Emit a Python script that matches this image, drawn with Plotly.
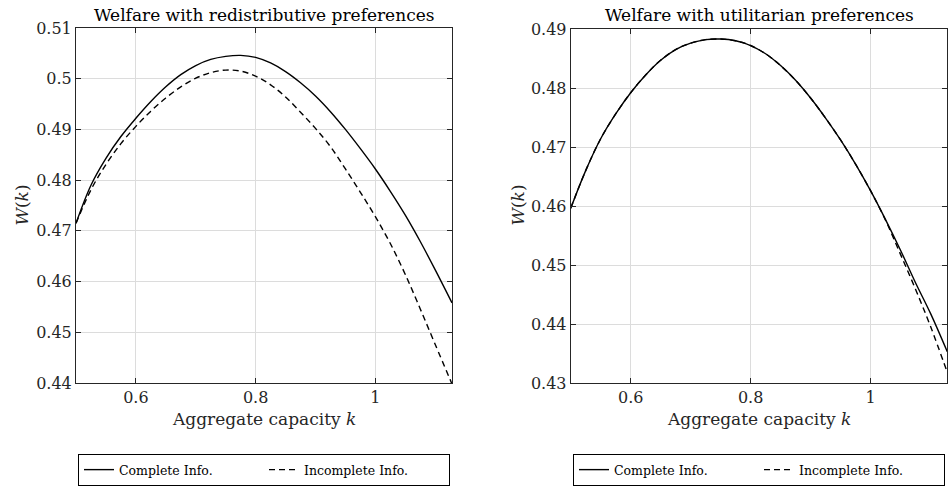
import plotly.graph_objects as go

# ---------------- data ----------------
# Left panel: welfare with redistributive preferences
k_red_complete = [0.5, 0.525, 0.55, 0.575, 0.6, 0.625, 0.65, 0.675, 0.7, 0.725, 0.75, 0.775,
                  0.8, 0.825, 0.85, 0.875, 0.9, 0.925, 0.95, 0.975, 1.0, 1.025, 1.05,
                  1.075, 1.1, 1.128]
w_red_complete = [0.4715, 0.4790, 0.4843, 0.4886, 0.4922, 0.4955, 0.4984, 0.5008, 0.5026,
                  0.5038, 0.5044, 0.5046, 0.5042, 0.5031, 0.5014, 0.4992, 0.4966, 0.4935,
                  0.4900, 0.4862, 0.4822, 0.4778, 0.4731, 0.4679, 0.4623, 0.4558]
k_red_incomplete = [0.5, 0.525, 0.55, 0.575, 0.6, 0.625, 0.65, 0.675, 0.7, 0.725, 0.75, 0.775,
                    0.8, 0.825, 0.85, 0.875, 0.9, 0.925, 0.95, 0.975, 1.0, 1.025, 1.05,
                    1.075, 1.1, 1.128]
w_red_incomplete = [0.4715, 0.4781, 0.4831, 0.4872, 0.4906, 0.4936, 0.4962, 0.4984, 0.5001,
                    0.5012, 0.5017, 0.5015, 0.5005, 0.4988, 0.4964, 0.4934, 0.4902, 0.4866,
                    0.4822, 0.4776, 0.4728, 0.4675, 0.4614, 0.4546, 0.4476, 0.4398]

# Right panel: welfare with utilitarian preferences
k_util_complete = [0.5, 0.525, 0.55, 0.575, 0.6, 0.625, 0.65, 0.675, 0.7, 0.725, 0.75, 0.775,
                   0.8, 0.825, 0.85, 0.875, 0.9, 0.925, 0.95, 0.975, 1.0, 1.025, 1.05,
                   1.075, 1.1, 1.128]
w_util_complete = [0.4596, 0.4660, 0.4714, 0.4756, 0.4792, 0.4822, 0.4847, 0.4865, 0.4876,
                   0.4882, 0.4883, 0.4880, 0.4872, 0.4858, 0.4838, 0.4813, 0.4783, 0.4749,
                   0.4712, 0.4671, 0.4626, 0.4577, 0.4525, 0.4470, 0.4418, 0.4353]
k_util_incomplete = [0.5, 0.525, 0.55, 0.575, 0.6, 0.625, 0.65, 0.675, 0.7, 0.725, 0.75, 0.775,
                     0.8, 0.825, 0.85, 0.875, 0.9, 0.925, 0.95, 0.975, 1.0, 1.025, 1.05,
                     1.075, 1.1, 1.128]
w_util_incomplete = [0.4596, 0.4660, 0.4714, 0.4756, 0.4792, 0.4822, 0.4847, 0.4865, 0.4876,
                     0.4882, 0.4883, 0.4880, 0.4872, 0.4858, 0.4838, 0.4813, 0.4783, 0.4749,
                     0.4712, 0.4671, 0.4626, 0.4576, 0.4518, 0.4459, 0.4396, 0.4318]

x_ticks = [0.6, 0.8, 1.0]
x_ticktext = ["0.6", "0.8", "1"]
y_ticks_left = [0.44, 0.45, 0.46, 0.47, 0.48, 0.49, 0.50, 0.51]
y_ticktext_left = ["0.44", "0.45", "0.46", "0.47", "0.48", "0.49", "0.5", "0.51"]
y_ticks_right = [0.43, 0.44, 0.45, 0.46, 0.47, 0.48, 0.49]
y_ticktext_right = ["0.43", "0.44", "0.45", "0.46", "0.47", "0.48", "0.49"]

title_left = "Welfare with redistributive preferences"
title_right = "Welfare with utilitarian preferences"
x_title = "Aggregate capacity <i>k</i>"
y_title = "<i>W</i>(<i>k</i>)"
name_complete = "Complete Info."
name_incomplete = "Incomplete Info."

# ---------------- figure ----------------
W, H = 948, 491
FONT = "DejaVu Serif"
AX = "#262626"
GRID = "#dcdcdc"

fig = go.Figure()


def px_x(p):
    return p / W


def px_y(p):
    return 1 - p / H


line_solid = dict(color="black", width=1.4, shape="spline", smoothing=1.0)
line_dash = dict(color="black", width=1.4, shape="spline", smoothing=1.0, dash="6px,4px")

fig.add_trace(go.Scatter(x=k_red_complete, y=w_red_complete, mode="lines", name=name_complete,
                         line=line_solid, xaxis="x", yaxis="y", legend="legend"))
fig.add_trace(go.Scatter(x=k_red_incomplete, y=w_red_incomplete, mode="lines", name=name_incomplete,
                         line=line_dash, xaxis="x", yaxis="y", legend="legend"))
fig.add_trace(go.Scatter(x=k_util_complete, y=w_util_complete, mode="lines", name=name_complete,
                         line=line_solid, xaxis="x2", yaxis="y2", legend="legend2"))
fig.add_trace(go.Scatter(x=k_util_incomplete, y=w_util_incomplete, mode="lines", name=name_incomplete,
                         line=line_dash, xaxis="x2", yaxis="y2", legend="legend2"))

axis_common = dict(
    showline=True, linecolor=AX, linewidth=1, mirror="allticks",
    ticks="inside", ticklen=5, tickcolor=AX, tickwidth=1,
    showgrid=True, gridcolor=GRID, gridwidth=1, zeroline=False,
    tickfont=dict(family=FONT, size=16, color=AX),
)

L = (76, 452, 28, 383)
R = (570.7, 947.3, 29, 383)

legend_common = dict(orientation="h", xanchor="center", yanchor="top",
                     bordercolor="black", borderwidth=1, bgcolor="white",
                     entrywidth=140, entrywidthmode="pixels",
                     font=dict(family=FONT, size=12.5, color="black"))

fig.update_layout(
    width=W, height=H,
    margin=dict(l=0, r=0, t=0, b=0, autoexpand=False),
    paper_bgcolor="white", plot_bgcolor="white",
    showlegend=True,
    xaxis=dict(domain=[px_x(L[0]), px_x(L[1])], range=[0.5, 1.128], anchor="y",
               tickvals=x_ticks, ticktext=x_ticktext, **axis_common),
    yaxis=dict(domain=[px_y(L[3]), px_y(L[2])], range=[0.44, 0.51], anchor="x",
               tickvals=y_ticks_left, ticktext=y_ticktext_left, **axis_common),
    xaxis2=dict(domain=[px_x(R[0]), px_x(R[1])], range=[0.5, 1.128], anchor="y2",
                tickvals=x_ticks, ticktext=x_ticktext, **axis_common),
    yaxis2=dict(domain=[px_y(R[3]), px_y(R[2])], range=[0.43, 0.49], anchor="x2",
                tickvals=y_ticks_right, ticktext=y_ticktext_right, **axis_common),
    legend=dict(x=px_x((L[0] + L[1]) / 2), y=px_y(454), **legend_common),
    legend2=dict(x=px_x((R[0] + R[1]) / 2), y=px_y(454), **legend_common),
)

ann = []
for cx, title in [((L[0] + L[1]) / 2, title_left), ((R[0] + R[1]) / 2, title_right)]:
    ann.append(dict(text=title, x=px_x(cx), y=px_y(15), xref="paper", yref="paper",
                    showarrow=False, xanchor="center", yanchor="middle",
                    font=dict(family=FONT, size=17, color="black")))
    ann.append(dict(text=x_title, x=px_x(cx), y=px_y(419), xref="paper", yref="paper",
                    showarrow=False, xanchor="center", yanchor="middle",
                    font=dict(family=FONT, size=17, color=AX)))
for cx in [21.5, 517.5]:
    ann.append(dict(text=y_title, x=px_x(cx), y=px_y(205), xref="paper", yref="paper",
                    showarrow=False, xanchor="center", yanchor="middle", textangle=-90,
                    font=dict(family=FONT, size=17, color=AX)))
fig.update_layout(annotations=ann)

fig.write_html("out.html")
